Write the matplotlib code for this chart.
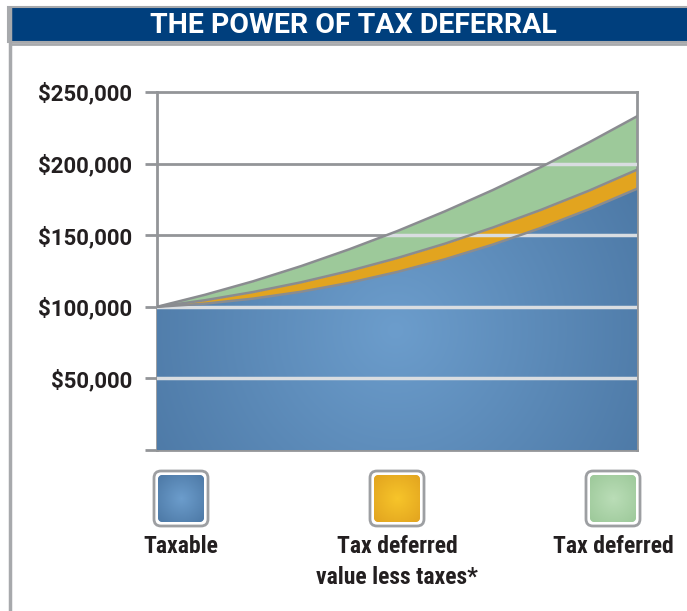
import numpy as np
import matplotlib
matplotlib.use('Agg')
import matplotlib.pyplot as plt
from matplotlib.patches import Polygon, FancyBboxPatch, Rectangle
from matplotlib.colors import to_rgb

plt.rcParams['font.family'] = ['Roboto Condensed', 'DejaVu Sans']

# Data (values in dollars)
years = [0, 1, 2, 3, 4, 5, 6, 7, 8, 9, 10]
taxable = [100000, 102200, 105700, 110500, 116700, 124300, 133200, 143500, 155100, 168100, 182400]
deferred_less_taxes = [100000, 104600, 110300, 117100, 125000, 134000, 144100, 155400, 167700, 181100, 195700]
tax_deferred = [100000, 108400, 117800, 128400, 140100, 152800, 166700, 181600, 197600, 214800, 233000]
y_ticks = [0, 50000, 100000, 150000, 200000, 250000]
y_labels = ['', '$50,000', '$100,000', '$150,000', '$200,000', '$250,000']
legend_labels = ['Taxable', 'Tax deferred\nvalue less taxes*', 'Tax deferred']

W, H = 687, 611
BLUE_EDGE = '#4D79A6'
BLUE_CENTER = '#6C9DCC'
ORANGE = '#E2A41F'
ORANGE_CENTER = '#F7C52A'
GREEN = '#9DC99A'
GREEN_CENTER = '#BADDB7'
GRAY = '#939598'


def radial(nx, ny, cx, cy, rad, c_in, c_out):
    yy, xx = np.mgrid[0:ny, 0:nx]
    r = np.clip(np.hypot(xx - cx, yy - cy) / rad, 0, 1)[..., None]
    a, b = np.array(to_rgb(c_in)), np.array(to_rgb(c_out))
    return a * (1 - r) + b * r


fig = plt.figure(figsize=(W / 100, H / 100), dpi=100)

# background layer in pixel coordinates
bg = fig.add_axes([0, 0, 1, 1], zorder=0)
bg.set_xlim(0, W)
bg.set_ylim(H, 0)
bg.axis('off')
bg.plot([10, 10], [8, H], color='#a7a9ac', lw=2.5)
bg.add_patch(Rectangle((8, 7), W, 35, facecolor='#003f7d', edgecolor='#a7a9ac', lw=1.5))
bg.plot([10, W], [43.5, 43.5], color='#a7a9ac', lw=2)
bg.text(353, 25.5, 'THE POWER OF TAX DEFERRAL', color='white', fontsize=20.5,
        fontweight='bold', ha='center', va='center', family='Roboto')

# main chart
left, right, top, bottom = 157, 637, 92, 450
ax = fig.add_axes([left / W, 1 - bottom / H, (right - left) / W, (bottom - top) / H], zorder=1)
ax.set_xlim(years[0], years[-1])
ax.set_ylim(0, 250000)

for v in y_ticks[1:-1]:
    ax.axhline(v, color=GRAY, lw=2, zorder=1)

ax.fill_between(years, deferred_less_taxes, tax_deferred, color=GREEN, lw=0, zorder=2)
ax.fill_between(years, taxable, deferred_less_taxes, color=ORANGE, lw=0, zorder=2)

# blue area with radial shading
verts = list(zip(years, taxable)) + [(years[-1], 0), (years[0], 0)]
blue_poly = Polygon(verts, closed=True, transform=ax.transData, facecolor='none', edgecolor='none')
ax.add_patch(blue_poly)
img = radial(480, 358, 238, 238, 280, BLUE_CENTER, BLUE_EDGE)
im = ax.imshow(img, extent=(years[0], years[-1], 0, 250000), aspect='auto', zorder=3)
im.set_clip_path(blue_poly)

# light gridlines over the filled areas
union = list(zip(years, tax_deferred)) + [(years[-1], 0), (years[0], 0)]
union_poly = Polygon(union, closed=True, transform=ax.transData, facecolor='none', edgecolor='none')
ax.add_patch(union_poly)
for v in y_ticks[1:-1]:
    gl = ax.axhline(v, color='#d9dde1', lw=2.5, zorder=4)
    gl.set_clip_path(union_poly)

for s in (taxable, deferred_less_taxes, tax_deferred):
    ax.plot(years, s, color='#8a8c90', lw=1.8, zorder=5)

ax.set_yticks(y_ticks)
ax.set_yticklabels(y_labels, fontsize=16, fontweight='bold', color='#231f20', family='Roboto')
ax.set_xticks([])
ax.tick_params(axis='y', length=9, width=2, color=GRAY, pad=9)
for sp in ax.spines.values():
    sp.set_color(GRAY)
    sp.set_linewidth(2)

# legend
centers = [181, 397, 613]
colors = [(BLUE_CENTER, BLUE_EDGE), (ORANGE_CENTER, ORANGE), (GREEN_CENTER, GREEN)]
for cx, (cin, cout), lab in zip(centers, colors, legend_labels):
    outer = FancyBboxPatch((cx - 27, 471), 54, 55, boxstyle='round,pad=0,rounding_size=7',
                           facecolor='white', edgecolor='#9d9fa2', lw=2)
    bg.add_patch(outer)
    inner = FancyBboxPatch((cx - 23, 475), 46, 47, boxstyle='round,pad=0,rounding_size=5',
                           facecolor=cout, edgecolor='none')
    bg.add_patch(inner)
    li = bg.imshow(radial(46, 47, 23, 23, 32, cin, cout), extent=(cx - 23, cx + 23, 522, 475),
                   aspect='auto', zorder=2)
    li.set_clip_path(inner)
    bg.text(cx, 535, lab, ha='center', va='top', fontsize=17, fontweight='bold',
            color='#231f20', linespacing=1.45)

bg.set_xlim(0, W)
bg.set_ylim(H, 0)

fig.savefig('out.png', dpi=100)
